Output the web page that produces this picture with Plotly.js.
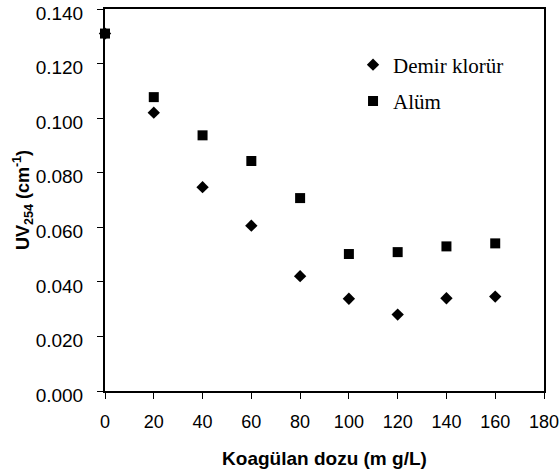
<!DOCTYPE html>
<html>
<head>
<meta charset="utf-8">
<script src="https://cdn.plot.ly/plotly-3.0.1.min.js"></script>
<style>html,body{margin:0;padding:0;background:#fff;}#chart{width:560px;height:475px;}</style>
</head>
<body>
<div id="chart"></div>
<script>
const doses = [0, 20, 40, 60, 80, 100, 120, 140, 160];
const demirKlorur = [0.131, 0.102, 0.0747, 0.0606, 0.0421, 0.0338, 0.0280, 0.0340, 0.0346];
const alum = [0.131, 0.1077, 0.0937, 0.0843, 0.0707, 0.0502, 0.0509, 0.0530, 0.0541];
const seriesNames = ["Demir klorür", "Alüm"];
const xTicks = [0, 20, 40, 60, 80, 100, 120, 140, 160, 180];
const yTicks = [0, 0.02, 0.04, 0.06, 0.08, 0.10, 0.12, 0.14];
const yTickLabels = ["0.000", "0.020", "0.040", "0.060", "0.080", "0.100", "0.120", "0.140"];

const traces = [
  {x: doses, y: demirKlorur, name: seriesNames[0], legendgroup: 'g1', type: 'scatter', mode: 'markers',
   marker: {symbol: 'diamond', size: 9.5, color: '#000'}, cliponaxis: false},
  {x: doses, y: alum, name: seriesNames[1], legendgroup: 'g2', type: 'scatter', mode: 'markers',
   marker: {symbol: 'square', size: 10, color: '#000'}, cliponaxis: false}
];

const sans = 'Liberation Sans, Arial, sans-serif';
const layout = {
  width: 560, height: 475,
  margin: {l: 105, r: 16, t: 9, b: 84},
  paper_bgcolor: '#fff', plot_bgcolor: '#fff',
  showlegend: true,
  legend: {x: 0.565, y: 0.907, xanchor: 'left', yanchor: 'top', bgcolor: 'rgba(0,0,0,0)',
           tracegroupgap: 6,
           font: {family: 'Liberation Serif, Times New Roman, serif', size: 21, color: '#000'}},
  xaxis: {range: [0, 180], tickvals: xTicks, ticktext: xTicks.map(String), showgrid: false, zeroline: false,
          showline: true, linecolor: '#000', linewidth: 2, mirror: true,
          ticks: 'outside', ticklen: 6, tickwidth: 1, tickcolor: '#000',
          tickfont: {family: sans, size: 18, color: '#000'}, ticklabelstandoff: 7,
          title: {text: '<b>Koagülan dozu (m g/L)</b>', font: {family: sans, size: 19, color: '#000'}, standoff: 21}},
  yaxis: {range: [0, 0.14], tickvals: yTicks, ticktext: yTickLabels, showgrid: false, zeroline: false,
          showline: true, linecolor: '#000', linewidth: 2, mirror: true,
          ticks: 'outside', ticklen: 6, tickwidth: 1, tickcolor: '#000',
          tickfont: {family: sans, size: 19, color: '#000'}, ticklabelstandoff: 10, ticklabelshift: 4,
          ticklabeloverflow: 'allow',
          title: {text: '<b>UV<sub>254</sub> (cm<sup>-1</sup>)</b>', font: {family: sans, size: 18, color: '#000'}, standoff: 1}}
};
Plotly.newPlot('chart', traces, layout, {displayModeBar: false, staticPlot: true});
</script>
</body>
</html>
